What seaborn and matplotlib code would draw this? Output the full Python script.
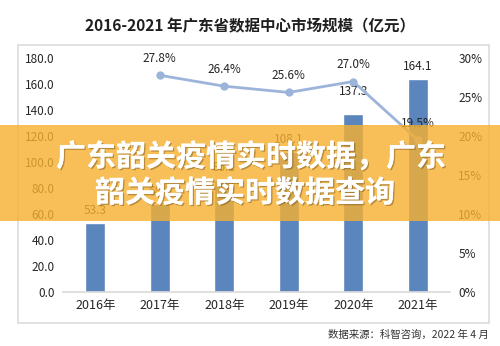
import matplotlib
matplotlib.use("Agg")
import matplotlib.pyplot as plt
import matplotlib.patheffects as pe
from matplotlib.patches import Rectangle
import seaborn as sns
import pandas as pd

years = ["2016年", "2017年", "2018年", "2019年", "2020年", "2021年"]
market_size = [53.3, 68.1, 86.1, 108.1, 137.3, 164.1]
growth_years = ["2017年", "2018年", "2019年", "2020年", "2021年"]
growth_rate = [27.8, 26.4, 25.6, 27.0, 19.5]
left_ticks = [0, 20, 40, 60, 80, 100, 120, 140, 160, 180]
right_ticks = [0, 5, 10, 15, 20, 25, 30]
title = "2016-2021 年广东省数据中心市场规模（亿元）"
source = "数据来源：科智咨询，2022 年 4 月"
banner_lines = ["广东韶关疫情实时数据，广东", "韶关疫情实时数据查询"]

sns.set_style("white")
plt.rcParams['font.family'] = ['Noto Sans CJK SC', 'DejaVu Sans']

fig = plt.figure(figsize=(5.0, 3.46), dpi=100)
fig.patch.set_facecolor("white")

# outer frame
fig.add_artist(Rectangle((0.036, 0.066), 0.942, 0.804, transform=fig.transFigure,
                         facecolor="white", edgecolor="#DCDCDC", linewidth=1.2, zorder=-1))

ax = fig.add_axes([0.126, 0.156, 0.774, 0.676])
ax.set_facecolor("none")
df = pd.DataFrame({"year": years, "size": market_size})
sns.barplot(data=df, x="year", y="size", ax=ax, color="#5B85BD", width=0.31,
            saturation=1, order=years)
ax.set_ylim(0, 180)
ax.set_xlim(-0.5, len(years) - 0.5)
ax.set_yticks(left_ticks)
ax.set_yticklabels([f"{v:.1f}" for v in left_ticks])
ax.set_xlabel("")
ax.set_ylabel("")
for s in ["top", "right", "left"]:
    ax.spines[s].set_visible(False)
ax.spines["bottom"].set_color("#D9D9D9")
ax.spines["bottom"].set_linewidth(1.2)
ax.tick_params(axis="both", length=0, labelsize=8.5, colors="#262626")
ax.tick_params(axis="y", pad=6)
ax.tick_params(axis="x", pad=5, labelsize=9)

bar_offsets = [9, 9, 9, 9, 16, 9]
for i, (v, off) in enumerate(zip(market_size, bar_offsets)):
    ax.annotate(f"{v:.1f}", (i, v), xytext=(0, off), textcoords="offset points",
                ha="center", va="center", fontsize=8.5, color="#262626")

ax2 = ax.twinx()
gx = [years.index(y) for y in growth_years]
sns.lineplot(x=gx, y=growth_rate, ax=ax2, color="#9DB4DA", linewidth=2,
             marker="o", markersize=6, markeredgewidth=0)
ax2.set_ylim(0, 30)
ax2.set_yticks(right_ticks)
ax2.set_yticklabels([f"{v}%" for v in right_ticks])
for s in ["top", "right", "left", "bottom"]:
    ax2.spines[s].set_visible(False)
ax2.tick_params(axis="y", length=0, labelsize=8.5, colors="#262626", pad=6)
for x, v in zip(gx, growth_rate):
    ax2.annotate(f"{v:.1f}%", (x, v), xytext=(0, 12), textcoords="offset points",
                 ha="center", va="center", fontsize=8.5, color="#262626")

fig.text(0.5, 0.925, title, ha="center", va="center", fontsize=11.2,
         fontweight="bold", color="#1F1F1F")
fig.text(0.977, 0.032, source, ha="right", va="center", fontsize=7.5, color="#333333")

# overlay banner
fig.add_artist(Rectangle((0, 0.361), 1, 0.278, transform=fig.transFigure,
                         facecolor="#F7B030", alpha=0.8, edgecolor="none", zorder=5))
shadow = [pe.withSimplePatchShadow(offset=(1, -1), shadow_rgbFace="#7a5a20", alpha=0.5),
          pe.Normal()]
fig.text(0.502, 0.546, banner_lines[0], ha="center", va="center", fontsize=21.6,
         fontweight="bold", color="white", zorder=6, path_effects=shadow)
fig.text(0.49, 0.442, banner_lines[1], ha="center", va="center", fontsize=21.6,
         fontweight="bold", color="white", zorder=6, path_effects=shadow)

fig.savefig("out.png", dpi=100)
